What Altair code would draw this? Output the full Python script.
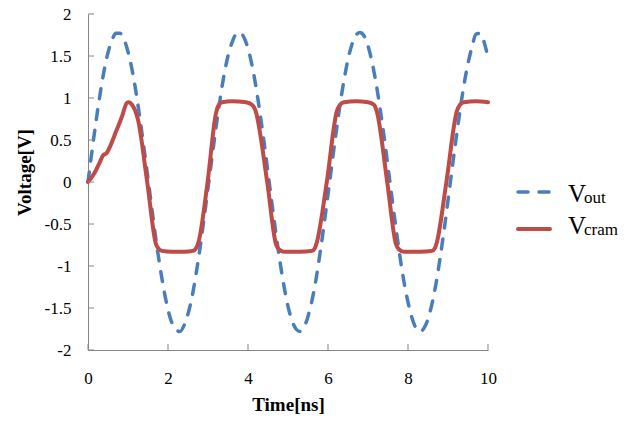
import altair as alt
import pandas as pd

# ---------------- data ----------------
time_out = [0.0, 0.1, 0.2, 0.3, 0.4, 0.5, 0.6, 0.7, 0.8, 0.9,
            1.0, 1.1, 1.2, 1.3, 1.4, 1.5, 1.6, 1.7, 1.8, 1.9,
            2.0, 2.1, 2.2, 2.3, 2.4, 2.5, 2.6, 2.7, 2.8, 2.9,
            3.0, 3.1, 3.2, 3.3, 3.4, 3.5, 3.6, 3.7, 3.8, 3.9,
            4.0, 4.1, 4.2, 4.3, 4.4, 4.5, 4.6, 4.7, 4.8, 4.9,
            5.0, 5.1, 5.2, 5.3, 5.4, 5.5, 5.6, 5.7, 5.8, 5.9,
            6.0, 6.1, 6.2, 6.3, 6.4, 6.5, 6.6, 6.7, 6.8, 6.9,
            7.0, 7.1, 7.2, 7.3, 7.4, 7.5, 7.6, 7.7, 7.8, 7.9,
            8.0, 8.1, 8.2, 8.3, 8.4, 8.5, 8.6, 8.7, 8.8, 8.9,
            9.0, 9.1, 9.2, 9.3, 9.4, 9.5, 9.6, 9.7, 9.8, 9.9,
            10.0]
v_out = [0.00, 0.37, 0.72, 1.04, 1.32, 1.54, 1.69, 1.77, 1.77, 1.70,
         1.55, 1.34, 1.07, 0.75, 0.40, 0.04, -0.33, -0.69, -1.01, -1.29,
         -1.52, -1.68, -1.76, -1.78, -1.71, -1.57, -1.37, -1.10, -0.79, -0.44,
         -0.07, 0.29, 0.65, 0.98, 1.27, 1.50, 1.66, 1.76, 1.78, 1.72,
         1.59, 1.39, 1.13, 0.82, 0.48, 0.11, -0.26, -0.62, -0.95, -1.24,
         -1.48, -1.65, -1.75, -1.78, -1.73, -1.60, -1.41, -1.16, -0.85, -0.51,
         -0.15, 0.22, 0.58, 0.92, 1.21, 1.46, 1.64, 1.75, 1.78, 1.74,
         1.62, 1.43, 1.18, 0.88, 0.55, 0.18, -0.19, -0.55, -0.89, -1.19,
         -1.43, -1.62, -1.74, -1.78, -1.74, -1.63, -1.45, -1.21, -0.91, -0.58,
         -0.22, 0.15, 0.51, 0.85, 1.16, 1.41, 1.61, 1.76, 1.77, 1.67,
         1.48]

time_cram = [0.00, 0.10, 0.20, 0.30, 0.38, 0.46, 0.55, 0.70, 0.85, 0.97,
             1.02, 1.10, 1.18, 1.25, 1.48, 1.70, 1.76, 1.85, 2.10, 2.40,
             2.62, 2.70, 2.76, 2.99, 3.20, 3.26, 3.35, 3.60, 3.95, 4.10,
             4.18, 4.48, 4.70, 4.77, 4.90, 5.30, 5.60, 5.67, 5.72, 5.97,
             6.22, 6.30, 6.40, 6.70, 7.00, 7.15, 7.22, 7.48, 7.70, 7.77,
             7.90, 8.30, 8.60, 8.67, 8.72, 8.96, 9.22, 9.30, 9.40, 9.70,
             10.00]
v_cram = [0.00, 0.06, 0.14, 0.24, 0.32, 0.34, 0.42, 0.60, 0.78, 0.94,
          0.95, 0.92, 0.85, 0.74, 0.00, -0.74, -0.79, -0.82, -0.83, -0.83,
          -0.82, -0.79, -0.72, 0.00, 0.82, 0.91, 0.95, 0.96, 0.95, 0.92,
          0.86, 0.00, -0.74, -0.80, -0.83, -0.83, -0.82, -0.79, -0.72, 0.00,
          0.84, 0.92, 0.95, 0.96, 0.95, 0.92, 0.84, 0.00, -0.74, -0.80,
          -0.83, -0.83, -0.82, -0.79, -0.72, 0.00, 0.84, 0.92, 0.95, 0.96,
          0.95]

x_ticks = [0, 2, 4, 6, 8, 10]
y_ticks = [-2, -1.5, -1, -0.5, 0, 0.5, 1, 1.5, 2]

x_title = "Time[ns]"
y_title = "Voltage[V]"
legend_main = ["V", "V"]
legend_sub = ["out", "cram"]

# ---------------- style ----------------
BLUE = "#4A7EBB"
RED = "#BE4B48"
AXIS_GRAY = "#868686"
FONT = "Liberation Serif"
W, H = 400, 336

df_out = pd.DataFrame({"t": time_out, "v": v_out})
df_cram = pd.DataFrame({"t": time_cram, "v": v_cram})

xscale = alt.Scale(domain=[0, 10], nice=False, zero=False)
yscale = alt.Scale(domain=[-2, 2], nice=False, zero=False)

x_axis = alt.Axis(values=x_ticks, ticks=False, tickSize=0, grid=False,
                  domainColor=AXIS_GRAY, domainWidth=1,
                  labelFont=FONT, labelFontSize=17, labelColor="#000",
                  labelPadding=20, labelFlush=False, labelOverlap=False,
                  title=x_title, titleFont=FONT, titleFontSize=19,
                  titleFontWeight="bold", titleColor="#000",
                  titleBaseline="alphabetic", titleY=60)
y_axis = alt.Axis(values=y_ticks, ticks=False, tickSize=0, grid=False,
                  domainColor=AXIS_GRAY, domainWidth=1,
                  labelFont=FONT, labelFontSize=17, labelColor="#000",
                  labelPadding=17, labelFlush=False, labelOverlap=False,
                  labelExpr="toString(datum.value)",
                  title=y_title, titleFont=FONT, titleFontSize=19,
                  titleFontWeight="bold", titleColor="#000",
                  titleBaseline="middle", titleX=-64, titleY=158, titleAngle=270)

line_out = alt.Chart(df_out).mark_line(color=BLUE, strokeWidth=3.5, strokeDash=[10, 11],
                                       strokeCap="round", interpolate="monotone").encode(
    x=alt.X("t:Q", scale=xscale, axis=x_axis),
    y=alt.Y("v:Q", scale=yscale, axis=y_axis),
)
line_cram = alt.Chart(df_cram).mark_line(color=RED, strokeWidth=4, strokeCap="round",
                                         strokeJoin="round", interpolate="monotone").encode(
    x=alt.X("t:Q", scale=xscale),
    y=alt.Y("v:Q", scale=yscale),
)

# inward tick marks
yt = alt.Chart(pd.DataFrame({"v": y_ticks})).mark_rule(color=AXIS_GRAY, strokeWidth=1).encode(
    y=alt.Y("v:Q", scale=yscale), x=alt.value(0), x2=alt.value(6))
xt = alt.Chart(pd.DataFrame({"t": x_ticks})).mark_rule(color=AXIS_GRAY, strokeWidth=1).encode(
    x=alt.X("t:Q", scale=xscale), y=alt.value(H - 6), y2=alt.value(H))

# custom legend (to support subscripts)
one = pd.DataFrame({"a": [0]})
leg1_line = alt.Chart(one).mark_rule(color=BLUE, strokeWidth=3.5, strokeDash=[10, 11],
                                     strokeCap="round").encode(
    x=alt.value(430), x2=alt.value(462), y=alt.value(178))
leg2_line = alt.Chart(one).mark_rule(color=RED, strokeWidth=4, strokeCap="round").encode(
    x=alt.value(430), x2=alt.value(462), y=alt.value(215))

def legtext(txt, x, y, size):
    return alt.Chart(one).mark_text(text=txt, font=FONT, fontSize=size,
                                    align="left", baseline="alphabetic", color="#000").encode(
        x=alt.value(x), y=alt.value(y))

leg_txt = (legtext(legend_main[0], 480, 188, 25) + legtext(legend_sub[0], 496, 189, 17) +
           legtext(legend_main[1], 480, 220, 25) + legtext(legend_sub[1], 496, 221, 17))

chart = alt.layer(line_out, line_cram, yt, xt, leg1_line, leg2_line, leg_txt).properties(
    width=W, height=H,
    autosize=alt.AutoSizeParams(type="none"),
    padding={"left": 88, "top": 14, "right": 154, "bottom": 71},
    background="white",
).configure_view(stroke=None)

chart.save("out.html", embed_options={"renderer": "svg", "actions": False})
